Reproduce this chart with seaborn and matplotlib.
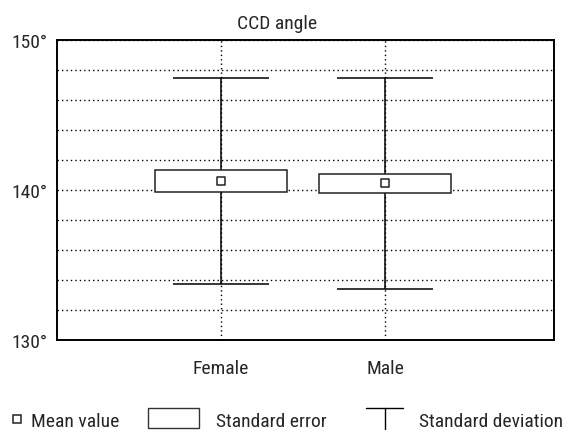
import numpy as np
import pandas as pd
import matplotlib
matplotlib.use("Agg")
import matplotlib.pyplot as plt
from matplotlib import font_manager
import seaborn as sns

# summary values
groups = ["Female", "Male"]
mean_vals = [140.6, 140.45]
se_vals = [0.74, 0.64]
sd_vals = [6.86, 7.02]
y_labels = {130: "130°", 140: "140°", 150: "150°"}

sns.set_style("white")
names = {f.name for f in font_manager.fontManager.ttflist}
fam = "Roboto"
for cand in ["Roboto Condensed", "Archivo Narrow", "IBM Plex Sans Condensed", "Fira Sans Condensed"]:
    if cand in names:
        fam = cand
        break
plt.rcParams["font.family"] = [fam, "DejaVu Sans"]
plt.rcParams["font.size"] = 14

dat = pd.DataFrame({"group": groups, "mean": mean_vals, "se": se_vals, "sd": sd_vals})
dat["x"] = np.arange(len(dat))

fig = plt.figure(figsize=(5.7, 4.31), dpi=100)
ax = fig.add_axes([57/570, 1-341/431, (554-57)/570, 300/431])

lw = 1.1
# SD whiskers
ax.vlines(dat["x"], dat["mean"]-dat["sd"], dat["mean"]+dat["sd"], color="black", lw=lw, zorder=2)
ax.hlines(dat["mean"]+dat["sd"], dat["x"]-0.29, dat["x"]+0.29, color="black", lw=lw, zorder=2)
ax.hlines(dat["mean"]-dat["sd"], dat["x"]-0.29, dat["x"]+0.29, color="black", lw=lw, zorder=2)
# SE box
ax.bar(dat["x"], 2*dat["se"], bottom=dat["mean"]-dat["se"], width=0.8,
       color="white", edgecolor="#222222", lw=lw, zorder=3)
# mean
sns.scatterplot(data=dat, x="x", y="mean", marker="s", s=30, color="white",
                edgecolor="#222222", linewidth=1.1, zorder=4, ax=ax, legend=False)

ax.set_xlim(-1, 2.03)
ax.set_ylim(130, 150)
ax.set_yticks(range(130, 151, 2))
ax.set_yticklabels([y_labels.get(v, "") for v in range(130, 151, 2)])
ax.set_xticks(dat["x"])
ax.set_xticklabels(groups)
ax.set_xlabel("")
ax.set_ylabel("")
ax.tick_params(axis="both", length=0)
ax.tick_params(axis="y", pad=7)
ax.tick_params(axis="x", pad=14)
ax.grid(True, color="black", lw=1.0, linestyle=(0, (1, 2.2)))
ax.set_axisbelow(True)
for s in ax.spines.values():
    s.set_color("black")
    s.set_linewidth(1.4)

fig.text(277/570, 1-24/431, "CCD angle", ha="center", va="center")

# legend drawn in a pixel-space overlay
leg = fig.add_axes([0, 0, 1, 1], zorder=-1)
leg.set_xlim(0, 570)
leg.set_ylim(431, 0)
leg.axis("off")
leg.plot([17], [420.5], marker="s", ms=6, mfc="white", mec="#222222", mew=1.1)
leg.text(31, 422, "Mean value", va="center", ha="left")
leg.add_patch(plt.Rectangle((148, 409), 51, 20, fill=False, ec="#333333", lw=1.0))
leg.text(216, 422, "Standard error", va="center", ha="left")
leg.plot([366, 403], [409, 409], color="black", lw=1.0)
leg.plot([384.5, 384.5], [409, 432], color="black", lw=1.0)
leg.text(419, 422, "Standard deviation", va="center", ha="left")

fig.savefig("out.png", dpi=100)
